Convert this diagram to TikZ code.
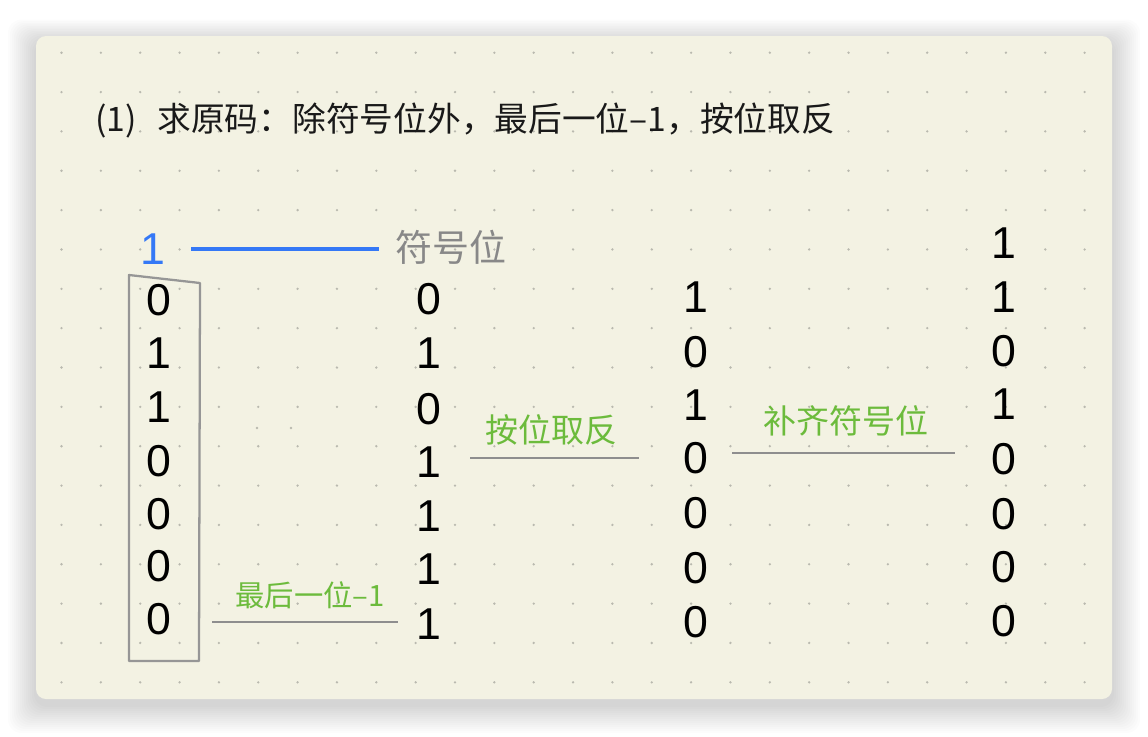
\documentclass[tikz,border=0pt]{standalone}
\usepackage{fontspec}
\setmainfont{Noto Sans CJK SC}
\newfontfamily\digitfont{Liberation Sans}
\definecolor{cardbg}{RGB}{243,242,227}
\definecolor{dotgray}{RGB}{185,185,175}
\definecolor{signblue}{RGB}{52,120,246}
\definecolor{labelgreen}{RGB}{108,187,60}
\definecolor{rulegray}{RGB}{142,142,142}
\definecolor{boxgray}{RGB}{150,150,150}
\definecolor{textgray}{RGB}{136,136,136}

\tikzset{
  bit/.style={inner sep=0pt,font=\digitfont\fontsize{33.5}{40}\selectfont},
  steplabel/.style={inner sep=0pt,text=labelgreen,font=\fontsize{24.75}{30}\selectfont},
  underline/.style={rulegray,line width=2pt},
}

\begin{document}
\begin{tikzpicture}[x=0.75pt,y=-0.75pt]
      \useasboundingbox (0,0) rectangle (1148,736) ;
      % card with soft shadow
      \foreach \s in {1,...,14}
        \fill[black,opacity=0.011,rounded corners=10] %
        (36-2*\s,36-1.6*\s+6) rectangle (1112+2*\s,699+2*\s+6) ;
      \fill[cardbg,rounded corners=7.5pt] (36,36) rectangle (1112,699) ;
      \foreach \i in {0,...,26}
        \foreach \j in {0,...,16}
          \fill[dotgray] (61.5+39.35*\i,52.7+39.35*\j) circle[radius=1.3] ;
      \fill[dotgray] (257,428) circle[radius=1.3] (291,428) circle[radius=1.3] ;

      \node[anchor=west,inner sep=0pt,text=black!90,font=\fontsize{25.3}{30}\selectfont] %
      (title) at (95,121) {(1)\hspace{15.5pt}求原码：除符号位外，最后一位–1，按位取反} ;

      % sign bit
      \node[bit,text=signblue] (sign) at (152.5,249) {1} ;
      \node[inner sep=0pt,text=textgray,font=\fontsize{27.75}{32}\selectfont] %
      (signtxt) at (451,247) {符号位} ;
      \coordinate (sa) at (191,249) ;
      \coordinate (sb) at (379,249) ;
      \draw[signblue,line width=2.4pt] (sa) -- (sb) ;

      % the four columns
      \foreach \v/\y [count=\n] in {0/300,1/353,1/407,0/461,0/514,0/566,0/619}
        \node[bit] (a\n) at (158.5,\y) {\v} ;
      \foreach \v/\y [count=\n] in {0/299,1/353,0/409,1/462,1/516,1/569,1/624}
        \node[bit] (b\n) at (428.5,\y) {\v} ;
      \foreach \v/\y [count=\n] in {1/297,0/352,1/405,0/458,0/513,0/568,0/622}
        \node[bit] (c\n) at (695.5,\y) {\v} ;
      \foreach \v/\y [count=\n] in {1/243,1/297,0/351,1/404,0/459,0/514,0/567,0/621}
        \node[bit] (d\n) at (1004,\y) {\v} ;

      \draw[boxgray,line width=1.7pt,line join=round] %
      (129,275) -- (200,283) -- (199,661) -- (129,661) -- cycle ;

      % steps
      \node[steplabel,font=\fontsize{22}{26}\selectfont] (minus) at (310,595) {最后一位–1} ;
      \coordinate (m1) at (212,622) ;
      \coordinate (m2) at (398,622) ;
      \draw[underline] (m1) -- (m2) ;
      \node[steplabel] (flip) at (551,430) {按位取反} ;
      \coordinate (f1) at (470,458) ;
      \coordinate (f2) at (639,458) ;
      \draw[underline] (f1) -- (f2) ;
      \node[steplabel] (fill) at (846,421) {补齐符号位} ;
      \coordinate (p1) at (732,453) ;
      \coordinate (p2) at (955,453) ;
      \draw[underline] (p1) -- (p2) ;
    \end{tikzpicture}
\end{document}
